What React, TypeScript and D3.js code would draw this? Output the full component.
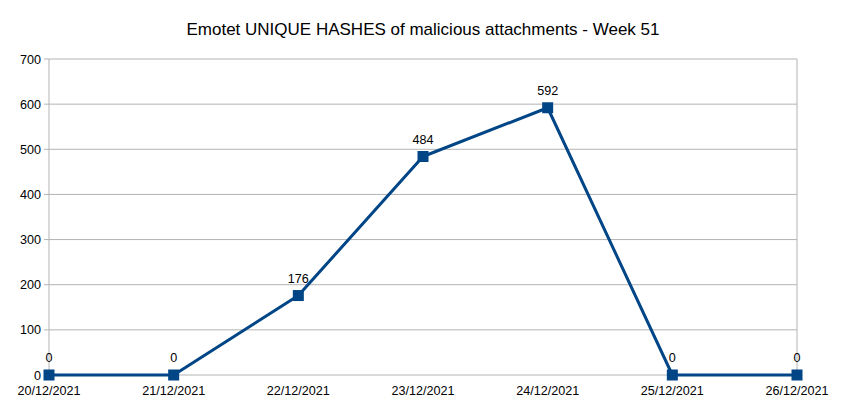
import React from "react";
import * as d3 from "d3";

const categories = ["20/12/2021", "21/12/2021", "22/12/2021", "23/12/2021", "24/12/2021", "25/12/2021", "26/12/2021"];
const values = [0, 0, 176, 484, 592, 0, 0];
const yTicks = [0, 100, 200, 300, 400, 500, 600, 700];
const title = "Emotet UNIQUE HASHES of malicious attachments - Week 51";

const W = 846, H = 408;
const left = 49, right = 797, top = 59, bottom = 375;
const color = "#004586";
const font = "'Liberation Sans', Arial, sans-serif";

export default function App() {
  const x = d3.scalePoint<string>().domain(categories).range([left, right]);
  const y = d3.scaleLinear().domain([0, 700]).range([bottom, top]);
  const line = d3.line<number>().x((_, i) => x(categories[i])!).y(d => y(d));
  return (
    <svg width={W} height={H} style={{ position: "absolute", left: 0, top: 0, background: "#fff" }} fontFamily={font}>
      <rect width={W} height={H} fill="#fff" />
      <text x={423} y={35} textAnchor="middle" fontSize={17} fill="#000">{title}</text>
      {yTicks.map(t => (
        <g key={t}>
          <line x1={left - 5} x2={right} y1={y(t)} y2={y(t)} stroke="#b3b3b3" strokeWidth={1} />
          <text x={left - 8} y={y(t) + 4.5} textAnchor="end" fontSize={12.6} fill="#000">{t}</text>
        </g>
      ))}
      <line x1={left} x2={left} y1={top} y2={bottom + 5} stroke="#b3b3b3" />
      <line x1={right} x2={right} y1={top} y2={bottom} stroke="#b3b3b3" />
      {categories.map(c => (
        <text key={c} x={x(c)} y={bottom + 20} textAnchor="middle" fontSize={12.6} fill="#000">{c}</text>
      ))}
      <path d={line(values)!} fill="none" stroke={color} strokeWidth={3} strokeLinejoin="round" />
      {values.map((v, i) => (
        <g key={i}>
          <rect x={x(categories[i])! - 5.5} y={y(v) - 5.5} width={11} height={11} fill={color} />
          <text x={x(categories[i])} y={y(v) - 13} textAnchor="middle" fontSize={12.6} fill="#000">{v}</text>
        </g>
      ))}
    </svg>
  );
}
